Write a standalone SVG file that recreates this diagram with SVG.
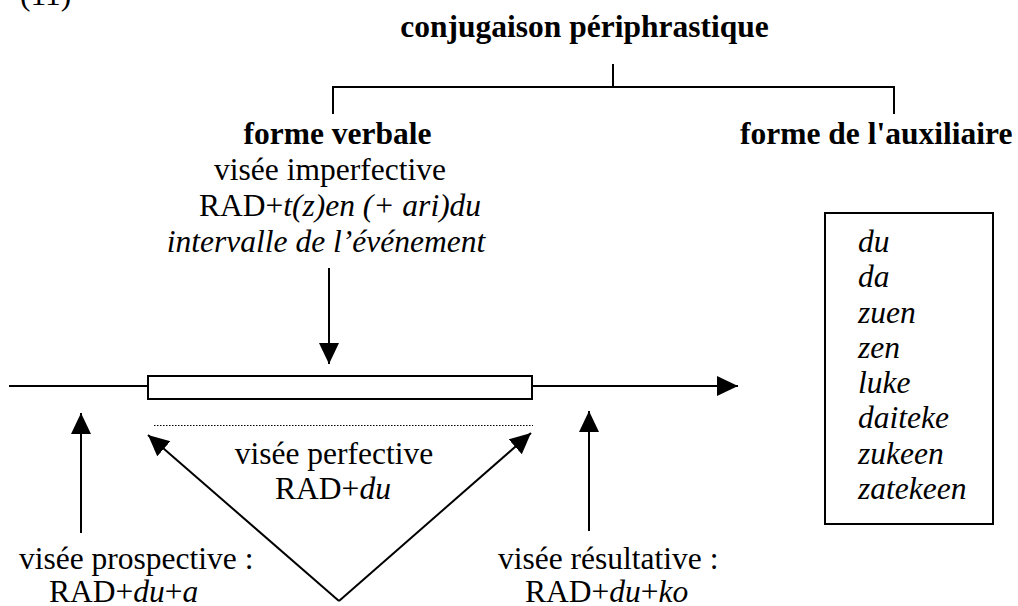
<svg xmlns="http://www.w3.org/2000/svg" width="1018" height="606" viewBox="0 0 1018 606">
<style>
  text { font-family: "Liberation Serif", "Times New Roman", serif; font-size: 31.5px; fill: #000; }
  .b { font-weight: bold; }
  .i { font-style: italic; }
  .ln { stroke: #000; stroke-width: 2; fill: none; }
  .arr { stroke: #000; stroke-width: 2; fill: none; marker-end: url(#ah); }
</style>
<defs>
  <marker id="ah" markerUnits="userSpaceOnUse" markerWidth="22" markerHeight="22" refX="21" refY="10" orient="auto">
    <path d="M0,0 L21,10 L0,20 z" fill="#000"/>
  </marker>
</defs>
<rect width="1018" height="606" fill="#fff"/>
<text x="20" y="5">(11)</text>

<g id="root"><text class="b" x="584.5" y="37" text-anchor="middle">conjugaison périphrastique</text></g>

<g id="forme-verbale">
  <text class="b" x="337.5" y="144" text-anchor="middle">forme verbale</text>
  <text x="330" y="180" text-anchor="middle">visée imperfective</text>
  <text x="340" y="216" text-anchor="middle">RAD+<tspan class="i">t(z)en (+ ari)du</tspan></text>
  <text class="i" x="326" y="252" text-anchor="middle">intervalle de l’événement</text>
</g>

<g id="forme-auxiliaire"><text class="b" x="740" y="144">forme de l'auxiliaire</text></g>

<g id="aux-box">
  <rect x="825" y="213" width="168" height="311" fill="#fff" stroke="#000" stroke-width="2"/>
  <text class="i" x="858" y="252">du</text>
  <text class="i" x="858" y="287">da</text>
  <text class="i" x="858" y="323">zuen</text>
  <text class="i" x="858" y="358">zen</text>
  <text class="i" x="858" y="393">luke</text>
  <text class="i" x="858" y="428">daiteke</text>
  <text class="i" x="858" y="464">zukeen</text>
  <text class="i" x="858" y="499">zatekeen</text>
</g>

<g id="timeline">
  <line class="arr" x1="9" y1="386" x2="738" y2="386"/>
  <rect x="148" y="376" width="384" height="23" fill="#fff" stroke="#000" stroke-width="2"/>
  <line x1="154" y1="425.5" x2="533" y2="425.5" stroke="#000" stroke-width="1" stroke-dasharray="1.5 1.5"/>
</g>

<g id="perfective">
  <text x="334" y="464" text-anchor="middle">visée perfective</text>
  <text x="333" y="499" text-anchor="middle">RAD+<tspan class="i">du</tspan></text>
</g>

<g id="prospective">
  <text x="19" y="569">visée prospective :</text>
  <text x="49" y="602">RAD+<tspan class="i">du</tspan>+<tspan class="i">a</tspan></text>
</g>

<g id="resultative">
  <text x="498" y="569">visée résultative :</text>
  <text x="525" y="602">RAD+<tspan class="i">du</tspan>+<tspan class="i">ko</tspan></text>
</g>

<g id="connectors">
  <polyline class="ln" points="333,114 333,87 894,87 894,114"/>
  <line class="ln" x1="613" y1="64" x2="613" y2="87"/>
  <line class="arr" x1="329" y1="268" x2="329" y2="364"/>
  <line class="arr" x1="81" y1="533" x2="81" y2="413"/>
  <line class="arr" x1="589" y1="531" x2="589" y2="411"/>
  <line class="arr" x1="339" y1="601" x2="148" y2="435"/>
  <line class="arr" x1="339" y1="601" x2="531" y2="433"/>
</g>
</svg>
